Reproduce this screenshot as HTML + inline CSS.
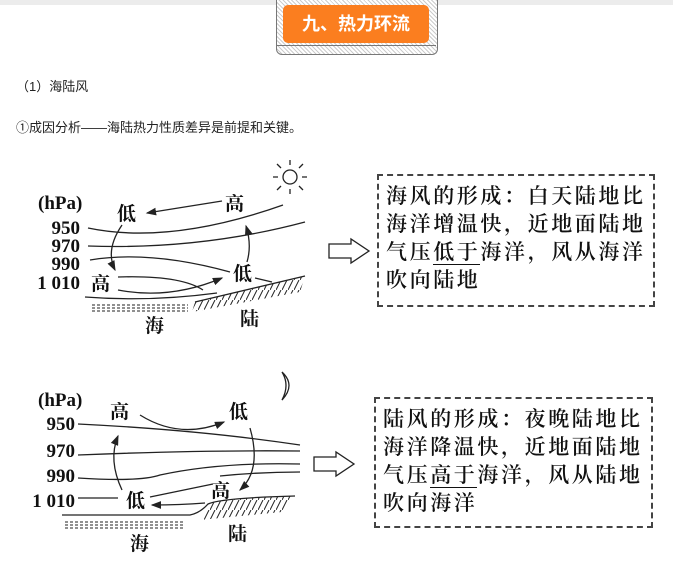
<!DOCTYPE html>
<html><head><meta charset="utf-8"><style>
body{margin:0;width:673px;height:572px;background:#fff;position:relative;overflow:hidden;font-family:"Liberation Sans","Noto Sans CJK SC",sans-serif;}
.t{position:absolute;font-size:13px;color:#222;white-space:nowrap}
.box{position:absolute;border:2px dashed #444;font-family:"Liberation Serif","Noto Serif CJK SC",serif;font-weight:600;font-size:21px;line-height:28px;color:#111;padding:6px 0 0 7px;box-sizing:border-box;letter-spacing:2.6px}
u{text-decoration:none;border-bottom:1.5px solid #111}
</style></head><body>
<div style="position:absolute;left:0;top:0;width:673px;height:5px;background:#ececec"></div>
<div style="position:absolute;left:276px;top:0;width:160px;height:54px;border:1px solid #777;border-top:none;border-radius:0 0 6px 6px;background:repeating-linear-gradient(45deg,#ccc 0 1px,#fff 1px 3px)"></div>
<div style="position:absolute;left:276px;top:45px;width:160px;height:1px;background:#777"></div>
<div style="position:absolute;left:283px;top:5px;width:146px;height:38px;background:#fb7e1f;border-radius:5px;color:#fff;font-weight:bold;font-size:18px;line-height:38px;text-align:center">九、热力环流</div>
<div class="t" style="left:16px;top:76px">（1）海陆风</div>
<div class="t" style="left:16px;top:117px">①成因分析——海陆热力性质差异是前提和关键。</div>
<svg width="673" height="572" style="position:absolute;left:0;top:0" font-family="Liberation Serif,Noto Serif CJK SC,serif" fill="none" stroke="#222" stroke-width="1.3">
<defs><marker id="a" markerWidth="8" markerHeight="6" refX="7" refY="3" orient="auto"><path d="M0,0L8,3L0,6z" fill="#222" stroke="none"/></marker>
<pattern id="h" width="6" height="10" patternUnits="userSpaceOnUse"><path d="M5,0L0,10" stroke="#222" stroke-width="1"/></pattern></defs>
<g fill="#111" stroke="none" font-size="19px" font-weight="bold">
<text x="38" y="209">(hPa)</text>
<text x="80" y="234" text-anchor="end">950</text><text x="80" y="252" text-anchor="end">970</text>
<text x="80" y="270" text-anchor="end">990</text><text x="80" y="289" text-anchor="end">1 010</text>
<text x="91" y="290">高</text><text x="117" y="220">低</text><text x="225" y="210">高</text><text x="233" y="280">低</text>
<text x="145" y="332">海</text><text x="240" y="325">陆</text>
<text x="38" y="406">(hPa)</text>
<text x="75" y="430" text-anchor="end">950</text><text x="75" y="457" text-anchor="end">970</text>
<text x="75" y="482" text-anchor="end">990</text><text x="75" y="507" text-anchor="end">1 010</text>
<text x="110" y="418">高</text><text x="229" y="418">低</text><text x="126" y="507">低</text><text x="211" y="497">高</text>
<text x="130" y="550">海</text><text x="228" y="540">陆</text>
</g>
<path d="M88,228Q170,245 283,205"/><path d="M88,246Q200,250 305,222"/>
<path d="M90,260Q150,250 230,272"/><path d="M118,277Q180,275 203,290"/>
<path d="M118,290Q170,300 222,278" marker-end="url(#a)"/>
<path d="M85,297Q150,302 217,293"/>
<path d="M222,201L147,213" marker-end="url(#a)"/>
<path d="M122,225Q105,250 115,270" marker-end="url(#a)"/>
<path d="M247,262Q252,245 246,226" marker-end="url(#a)"/>
<path d="M255,278L272,282"/>
<path d="M195,302L305,276"/><path d="M195,302L305,276L300,292L192,312z" fill="url(#h)" stroke="none"/>
<path d="M92,305H188M92,308H188M92,311H188" stroke-dasharray="3,2" stroke-width="1"/>
<circle cx="290" cy="177" r="7"/>
<path d="M290,165v-5M290,189v5M278,177h-5M302,177h5M281,168l-4-4M299,168l4-4M281,186l-4,4M299,186l4,4"/>
<path d="M329,244h22v-5l18,12l-18,12v-5h-22z"/>
<path d="M78,424Q200,430 300,445"/><path d="M78,455Q200,450 300,451"/>
<path d="M78,478Q140,482 160,475Q220,462 300,464"/><path d="M220,476Q260,472 300,472"/>
<path d="M78,498H118"/>
<path d="M213,484L150,497"/>
<path d="M205,503Q180,505 152,505" marker-end="url(#a)"/>
<path d="M140,415Q180,440 224,422" marker-end="url(#a)"/>
<path d="M250,428Q262,470 240,490" marker-end="url(#a)"/>
<path d="M122,490Q108,460 118,436" marker-end="url(#a)"/>
<path d="M62,515H190Q200,513 208,504Q220,498 295,496"/>
<path d="M208,504Q220,498 295,496L282,512L200,520z" fill="url(#h)" stroke="none"/>
<path d="M65,522H185M65,525H185M65,528H185" stroke-dasharray="3,2" stroke-width="1"/>
<path d="M282,372Q296,385 282,400Q290,385 282,372z"/>
<path d="M314,457h22v-5l18,12l-18,12v-5h-22z"/>
</svg>
<div class="box" style="left:377px;top:174px;width:278px;height:133px">海风的形成：白天陆地比<br>海洋增温快，近地面陆地<br>气压<u>低于</u>海洋，风从海洋<br>吹向陆地</div>
<div class="box" style="left:374px;top:397px;width:279px;height:131px">陆风的形成：夜晚陆地比<br>海洋降温快，近地面陆地<br>气压<u>高于</u>海洋，风从陆地<br>吹向海洋</div>
</body></html>
